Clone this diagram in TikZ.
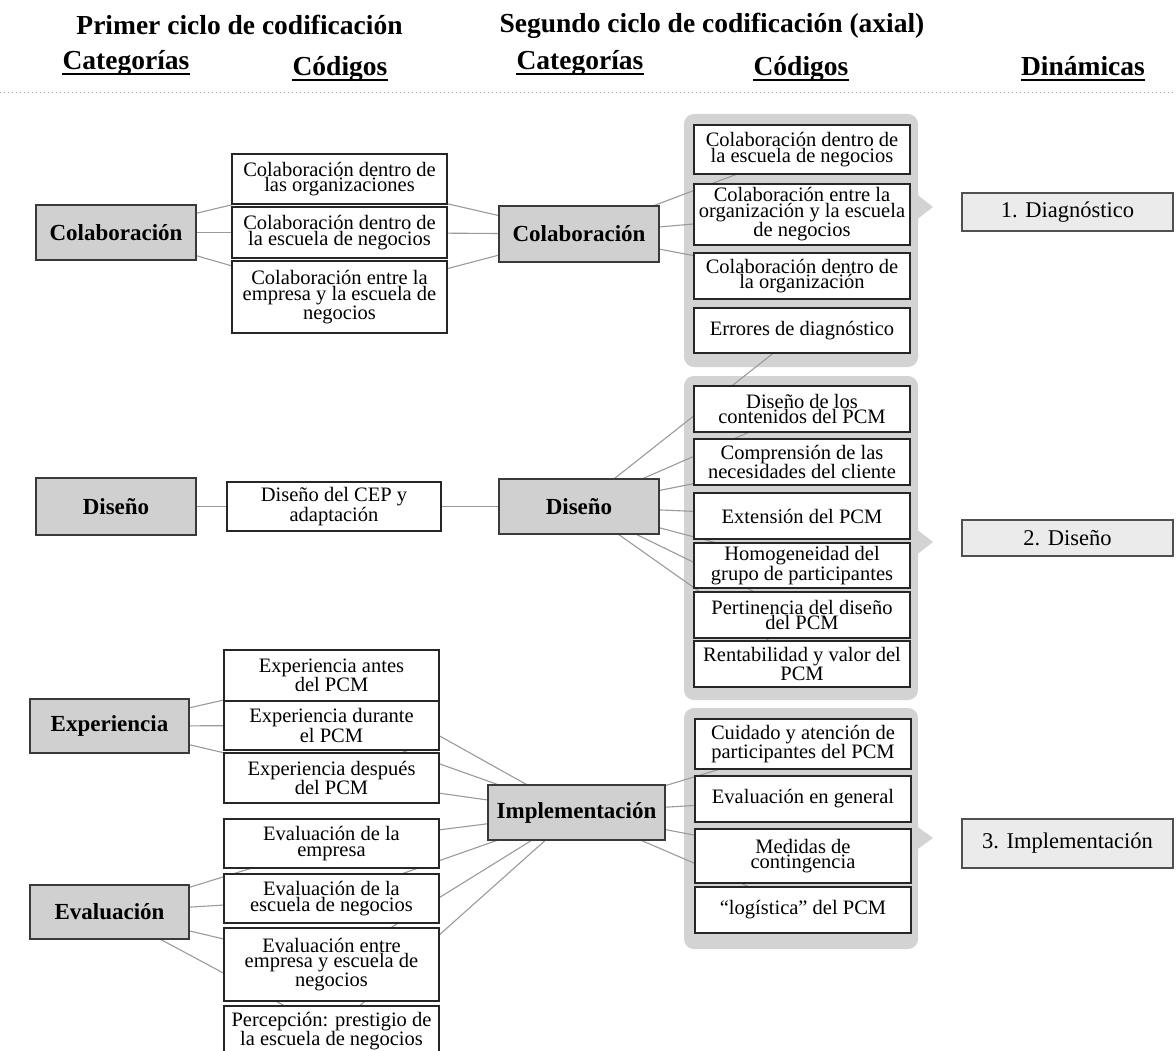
\documentclass[tikz,border=0pt]{standalone}
\usepackage{fontspec}
\setmainfont{Liberation Serif}
\pgfdeclarelayer{bg}
\pgfdeclarelayer{mid}
\pgfsetlayers{bg,mid,main}
\definecolor{catfill}{HTML}{D0D0D0}
\definecolor{catborder}{HTML}{3A3A3A}
\definecolor{codeborder}{HTML}{262626}
\definecolor{grpfill}{HTML}{D3D3D3}
\definecolor{dynfill}{HTML}{EBEBEB}
\definecolor{dynborder}{HTML}{505050}
\definecolor{conncol}{HTML}{9A9A9A}
\newcommand\boxnode[7]{\node[#2, minimum width={(#5-#3)*1pt}, minimum height={(#6-#4)*1pt}] (#1) at ({(#3+#5)/2},{(#4+#6)/2}) {#7};}
\begin{document}
\begin{tikzpicture}[x=1pt,y=-1pt,
  cat/.style={draw=catborder, fill=catfill, line width=1.2pt, inner sep=0pt, font=\fontsize{23}{25}\selectfont\bfseries},
  code/.style={draw=codeborder, fill=white, line width=1.2pt, inner sep=0pt, align=center, font=\fontsize{20.5}{15.5}\selectfont},
  dyn/.style={draw=dynborder, fill=dynfill, line width=1.2pt, inner sep=0pt, font=\fontsize{22.5}{24}\selectfont},
  conn/.style={draw=conncol, line width=1.1pt},
  grp/.style={fill=grpfill, rounded corners=10pt},
  head/.style={inner sep=0pt, anchor=base, font=\fontsize{27.5}{30}\selectfont\bfseries},
  uline/.style={line width=1.6pt}]
\useasboundingbox (0,0) rectangle (1176,1051);

% headers
\node[head] (h1) at (239.5,35) {Primer ciclo de codificación};
\node[head] (h2) at (712,33) {Segundo ciclo de codificación (axial)};
\node[head] (s1) at (126,70) {Categorías};
\node[head] (s2) at (340,76) {Códigos};
\node[head] (s3) at (580,70) {Categorías};
\node[head] (s4) at (801,76) {Códigos};
\node[head] (s5) at (1083,76) {Dinámicas};
\foreach \n in {s1,s2,s3,s4,s5}
  \draw[uline] ([yshift=-4pt]\n.base west) -- ([yshift=-4pt]\n.base east);
\draw[gray!70, line width=1pt, dash pattern=on 1pt off 3pt] (0,93) -- (1176,93);

% left categories
\boxnode{colA}{cat}{36}{205}{196}{260}{Colaboración}
\boxnode{disA}{cat}{36}{478}{196}{535}{Diseño}
\boxnode{expA}{cat}{30}{699}{189}{753}{Experiencia}
\boxnode{evaA}{cat}{30}{885}{189}{939}{Evaluación}

% first column codes
\boxnode{c1a}{code}{232}{154}{447}{204}{Colaboración dentro de\\las organizaciones}
\boxnode{c1b}{code}{232}{207}{447}{258}{Colaboración dentro de\\la escuela de negocios}
\boxnode{c1c}{code}{232}{261}{447}{333}{Colaboración entre la\\empresa y la escuela de\\negocios}
\boxnode{d1}{code}{227}{482}{441}{531}{Diseño del CEP y\\adaptación}
\boxnode{e1}{code}{224}{650}{439}{701}{Experiencia antes\\del PCM}
\boxnode{e2}{code}{224}{701}{439}{750}{Experiencia durante\\el PCM}
\boxnode{e3}{code}{224}{753}{439}{803}{Experiencia después\\del PCM}
\boxnode{v1}{code}{224}{819}{439}{868}{Evaluación de la\\empresa}
\boxnode{v2}{code}{224}{874}{439}{923}{Evaluación de la\\escuela de negocios}
\boxnode{v3}{code}{224}{928}{439}{1001}{Evaluación entre\\empresa y escuela de\\negocios}
\boxnode{v4}{code}{224}{1006}{439}{1056}{Percepción: prestigio de\\la escuela de negocios}

% second column categories
\boxnode{colB}{cat}{499}{206}{659}{262}{Colaboración}
\boxnode{disB}{cat}{499}{479}{659}{534}{Diseño}
\boxnode{impB}{cat}{488}{785}{665}{840}{Implementación}

% second column codes
\boxnode{k1}{code}{694}{125}{910}{174}{Colaboración dentro de\\la escuela de negocios}
\boxnode{k2}{code}{694}{184}{910}{245}{Colaboración entre la\\organización y la escuela\\de negocios}
\boxnode{k3}{code}{694}{253}{910}{299}{Colaboración dentro de\\la organización}
\boxnode{k4}{code}{694}{308}{910}{353}{Errores de diagnóstico}
\boxnode{g2a}{code}{694}{386}{910}{432}{Diseño de los\\contenidos del PCM}
\boxnode{g2b}{code}{694}{439}{910}{485}{Comprensión de las\\necesidades del cliente}
\boxnode{g2c}{code}{694}{493}{910}{539}{Extensión del PCM}
\boxnode{g2d}{code}{694}{543}{910}{588}{Homogeneidad del\\grupo de participantes}
\boxnode{g2e}{code}{694}{592}{910}{638}{Pertinencia del diseño\\del PCM}
\boxnode{g2f}{code}{694}{641}{910}{687}{Rentabilidad y valor del\\PCM}
\boxnode{g3a}{code}{695}{719}{911}{769}{Cuidado y atención de\\participantes del PCM}
\boxnode{g3b}{code}{695}{776}{911}{822}{Evaluación en general}
\boxnode{g3c}{code}{695}{829}{911}{883}{Medidas de\\contingencia}
\boxnode{g3d}{code}{695}{887}{911}{933}{“logística” del PCM}

% dynamics
\boxnode{dy1}{dyn}{962}{193}{1173}{231}{1. Diagnóstico}
\boxnode{dy2}{dyn}{962}{520}{1173}{556}{2. Diseño}
\boxnode{dy3}{dyn}{962}{819}{1173}{868}{3. Implementación}

% group containers and arrows
\begin{pgfonlayer}{bg}
  \fill[grp] (684,114) rectangle (918,367);
  \fill[grp] (684,376) rectangle (918,700);
  \fill[grp] (684,708) rectangle (918,949);
  \fill[grpfill] (915,193) -- (933,207) -- (915,221) -- cycle;
  \fill[grpfill] (915,528) -- (933,542) -- (915,556) -- cycle;
  \fill[grpfill] (915,825) -- (933,838) -- (915,851) -- cycle;
\end{pgfonlayer}

% connectors
\begin{pgfonlayer}{mid}
  \foreach \b in {c1a,c1b,c1c} {
    \draw[conn] (colA.center) -- (\b.center);
    \draw[conn] (\b.center) -- (colB.center);
  }
  \foreach \b in {k1,k2,k3} \draw[conn] (colB.center) -- (\b.center);
  \draw[conn] (disA.center) -- (d1.center);
  \draw[conn] (d1.center) -- (disB.center);
  \foreach \b in {k4,g2a,g2b,g2c,g2d,g2e,g2f} \draw[conn] (disB.center) -- (\b.center);
  \foreach \b in {e1,e2,e3} \draw[conn] (expA.center) -- (\b.center);
  \foreach \b in {v1,v2,v3,v4} \draw[conn] (evaA.center) -- (\b.center);
  \foreach \b in {e1,e2,e3,v1,v2,v3,v4} \draw[conn] (\b.center) -- (impB.center);
  \foreach \b in {g3a,g3b,g3c,g3d} \draw[conn] (impB.center) -- (\b.center);
\end{pgfonlayer}
\end{tikzpicture}
\end{document}
